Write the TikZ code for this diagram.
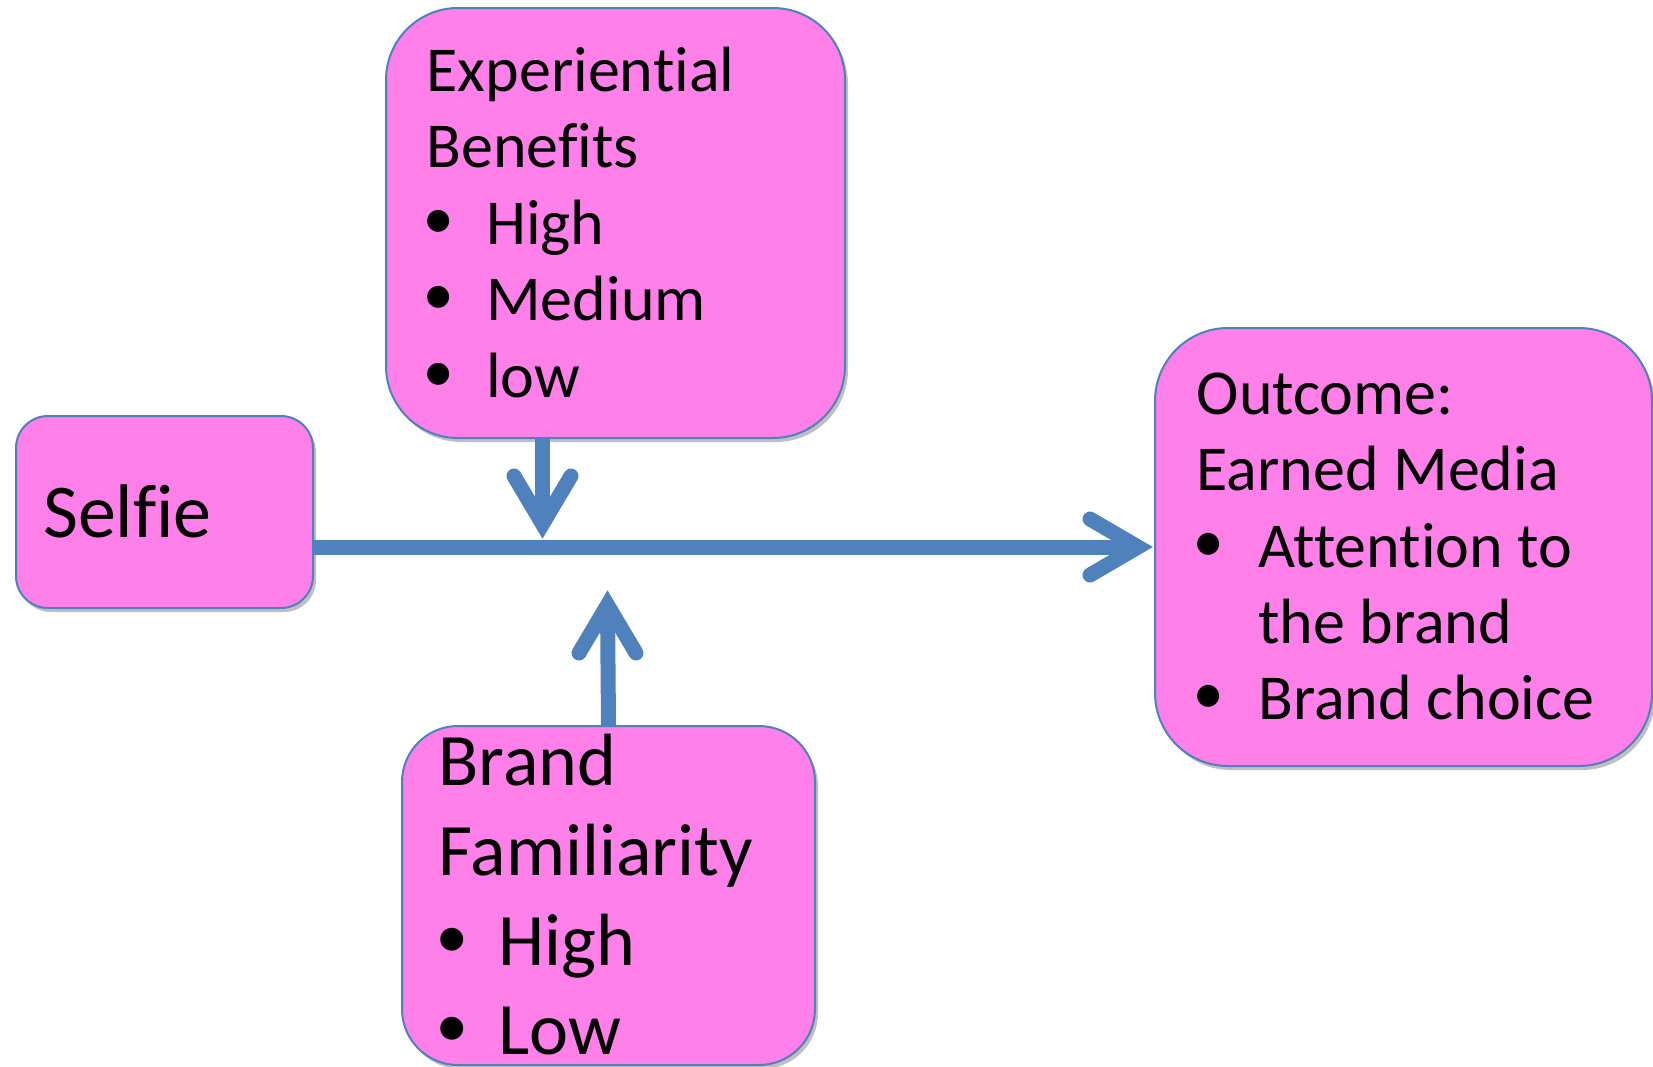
\documentclass[tikz,border=0pt]{standalone}
\usepackage{fontspec}
\setmainfont{Carlito}[Ligatures=NoCommon]
\usepackage{graphicx}
\usetikzlibrary{shadows,calc}
\definecolor{boxpink}{RGB}{255,128,232}
\definecolor{boxblue}{RGB}{79,129,189}
\definecolor{arrblue}{RGB}{79,129,189}
\newcommand\bulletglyph[4]{\makebox[#1][l]{\hspace{#4}\raisebox{#2}{\scalebox{#3}{\fontsize{10pt}{12pt}\selectfont$\bullet$}}}}
\newcommand\bltE{\bulletglyph{59.5pt}{8.85pt}{5.66}{-2pt}}
\newcommand\bltO{\bulletglyph{61.5pt}{8.85pt}{5.66}{-2pt}}
\newcommand\bltB{\bulletglyph{60pt}{10.25pt}{5.9}{-1.7pt}}
\begin{document}
\begin{tikzpicture}[x=1pt,y=-1pt,
  box/.style={draw=boxblue, line width=2pt, fill=boxpink, inner sep=0pt, anchor=north west,
    drop shadow={shadow xshift=3pt, shadow yshift=-4pt, opacity=0.25, fill=black}},
  txtA/.style={anchor=base west, inner sep=0pt, font=\fontsize{64}{76}\selectfont},
  txtB/.style={anchor=base west, inner sep=0pt, font=\fontsize{74}{90}\selectfont},
  txtS/.style={anchor=base west, inner sep=0pt, font=\fontsize{76}{92}\selectfont},
  arrshadow/.style={preaction={draw=black, opacity=0.2, transform canvas={shift={(2pt,-3pt)}}}},
  arr/.style={draw=arrblue, line width=15pt, arrshadow},
  chev/.style={draw=arrblue, line width=15pt, line cap=round, line join=miter, arrshadow}]
\useasboundingbox (0,0) rectangle (1653,1066);

% boxes
\node[box, rounded corners=32pt, minimum width=297pt, minimum height=192pt] (selfie) at (15,415) {};
\node[box, rounded corners=72pt, minimum width=459pt, minimum height=430pt] (exp) at (385,7) {};
\node[box, rounded corners=56pt, minimum width=413pt, minimum height=339pt] (bf) at (401,725) {};
\node[box, rounded corners=73pt, minimum width=497pt, minimum height=438pt] (out) at (1154,327) {};

% texts
\node[txtS] (s1) at (43,537) {Selfie};

\node[txtA] (e1) at (426.5,91) {Experiential};
\node[txtA] (e2) at (426.5,167.5) {Benefits};
\node[txtA] (e3) at (426.5,244) {\bltE High};
\node[txtA] (e4) at (426.5,320.5) {\bltE Medium};
\node[txtA] (e5) at (426.5,397) {\bltE low};

\node[txtB] (b1) at (438.5,785) {Brand};
\node[txtB] (b2) at (438.5,875) {Familiarity};
\node[txtB] (b3) at (438.5,965) {\bltB High};
\node[txtB] (b4) at (438.5,1054) {\bltB Low};

\node[txtA] (o1) at (1196.5,414) {Outcome:};
\node[txtA] (o2) at (1196.5,490) {Earned Media};
\node[txtA] (o3) at (1196.5,567) {\bltO Attention to};
\node[txtA] (o4) at (1258,643) {the brand};
\node[txtA] (o5) at (1196.5,719) {\bltO Brand choice};

% connectors
\coordinate (dtip) at (542.5,540);
\coordinate (utip) at (607.5,589);

\draw[arr] (selfie.east |- out.west) -- ($(out.west)+(-16,0)$);
\draw[chev] ($(out.west)+(-64,-28)$) -- ($(out.west)+(-16,0)$) -- ($(out.west)+(-64,28)$);

\draw[arr] (exp.south -| dtip) -- ($(dtip)+(0,-16)$);
\draw[chev] ($(dtip)+(-28.5,-64)$) -- ($(dtip)+(0,-16)$) -- ($(dtip)+(28.5,-64)$);

\draw[arr] (bf.north) -- ($(utip)+(0,16)$);
\draw[chev] ($(utip)+(-28.5,64)$) -- ($(utip)+(0,16)$) -- ($(utip)+(28.5,64)$);
\end{tikzpicture}
\end{document}
